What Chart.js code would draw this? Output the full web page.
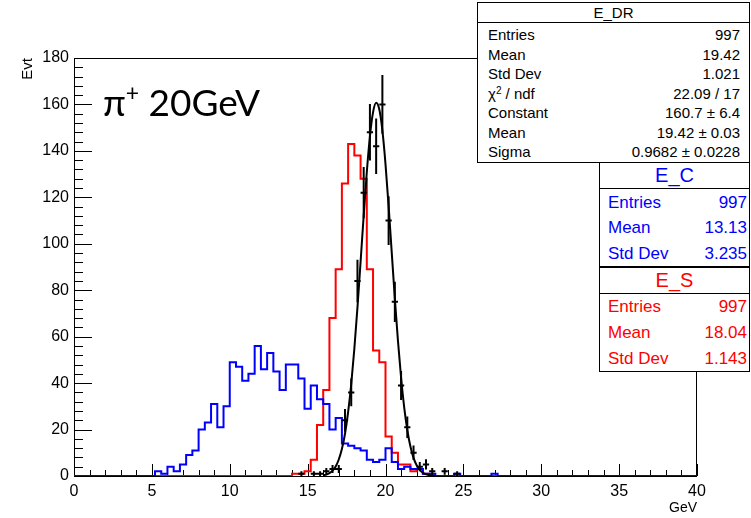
<!DOCTYPE html>
<html>
<head>
<meta charset="utf-8">
<script src="https://cdn.jsdelivr.net/npm/chart.js@4.4.1/dist/chart.umd.min.js"></script>
<style>
html,body{margin:0;padding:0;background:#ffffff;}
#wrap{position:relative;width:751px;height:518px;overflow:hidden;font-family:"Liberation Sans",Arial,Helvetica,sans-serif;}
#c{position:absolute;left:0;top:0;}
.box{position:absolute;background:#fff;border:1px solid #000;box-sizing:border-box;}
.ttl{position:absolute;left:0;right:0;top:0;text-align:center;border-bottom:1px solid #000;box-sizing:border-box;}
.row{position:absolute;white-space:nowrap;}
#lbl{position:absolute;left:103px;top:80px;font-family:Lato,"Open Sans",sans-serif;font-size:37px;line-height:44px;color:#000;white-space:nowrap;}
#lbl span{font-size:23px;position:relative;top:-15px;}
</style>
</head>
<body>
<div id="wrap">
<canvas id="c" width="751" height="518"></canvas>
<div id="lbl">π<span>+</span> 20GeV</div>
</div>
<script>
// ---- histogram binning (100 bins from 0 to 40 GeV) ----
const binLow = 0;
const binWidth = 0.4;
const nBins = 100;

// ---- E_C (blue) bin contents, starting at bin index eC_firstBin ----
const eC_firstBin = 13;
const eC_counts = [2,1,4,2,5,9,11,20,23,31,21,30,49,47,41,44,56,46,53,45,37,48,48,42,29,39,33,31,20,25,14,13,12,11,7,6,7,12,6,3,4,3,3,1,1,0,0,0,1,0,0,0,0,0,1];

// ---- E_S (red) bin contents ----
const eS_firstBin = 35;
const eS_counts = [1,1,2,7,22,37,68,89,126,143,138,128,89,54,49,17,10,5,5,2,3,1];

// ---- E_DR (black points with errors) bin contents ----
const eDR_firstBin = 36;
const eDR_counts = [1,0,1,1,2,3,3,24,36,84,122,148,142,160,110,75,39,21,10,4,5,2,0,2,0,1];

// ---- Gaussian fit curve ----
const fitX = [16.0,16.2,16.4,16.6,16.8,17.0,17.2,17.4,17.6,17.8,18.0,18.2,18.4,18.6,18.8,19.0,19.2,19.4,19.6,19.8,20.0,20.2,20.4,20.6,20.8,21.0,21.2,21.4,21.6,21.8,22.0,22.2,22.4,22.6,22.8,23.0,23.2];
const fitY = [0.3,0.6,1.2,2.3,4.1,7.1,11.6,18.2,27.5,39.6,54.8,72.6,92.2,112.2,130.9,146.3,156.6,160.7,157.9,148.8,134.3,116.2,96.3,76.4,58.2,42.4,29.6,19.8,12.7,7.8,4.6,2.6,1.4,0.7,0.4,0.2,0.1];

// ---- axes ----
const xTickLabels = [0,5,10,15,20,25,30,35,40];
const yTickLabels = [0,20,40,60,80,100,120,140,160,180];
const xTitle = 'GeV';
const yTitle = 'Evt';

// ---- stat box texts ----
const statDR = [['Entries','997'],['Mean','19.42'],['Std Dev','1.021'],['χ<sup style="font-size:10px;vertical-align:5px;line-height:0">2</sup> / ndf','22.09 / 17'],['Constant','160.7 ± 6.4'],['Mean','19.42 ± 0.03'],['Sigma','0.9682 ± 0.0228']];
const statC = [['Entries','997'],['Mean','13.13'],['Std Dev','3.235']];
const statS = [['Entries','997'],['Mean','18.04'],['Std Dev','1.143']];

function histPoints(first, counts){
  const pts = [];
  for (let k = 0; k < nBins; k++){
    const i = k - first;
    const c = (i >= 0 && i < counts.length) ? counts[i] : 0;
    pts.push({x: binLow + k*binWidth, y: c});
  }
  pts.push({x: binLow + nBins*binWidth, y: pts[pts.length-1].y});
  return pts;
}
function pointPoints(first, counts){
  const pts = [];
  counts.forEach((n,i)=>{ if(n>0) pts.push({x: binLow + (first+i)*binWidth + binWidth/2, y: n}); });
  return pts;
}

const framePlugin = {
  id: 'rootFrame',
  beforeDatasetsDraw(chart){
    const {ctx, chartArea:a, scales:{x, y}} = chart;
    ctx.save();
    ctx.strokeStyle = '#000';
    ctx.lineWidth = 1;
    ctx.strokeRect(a.left + 0.5, a.top + 0.5, a.right - a.left - 1, a.bottom - a.top);
    ctx.beginPath();
    const yMaj = yTickLabels[1] - yTickLabels[0];
    for (let v = yTickLabels[0]; v <= yTickLabels[yTickLabels.length-1] + 1e-9; v += yMaj/5){
      const p = Math.round(y.getPixelForValue(v)) + 0.5;
      const major = Math.abs(v/yMaj - Math.round(v/yMaj)) < 1e-6;
      const len = major ? 18 : 9;
      ctx.moveTo(a.left, p); ctx.lineTo(a.left + len, p);
    }
    const xMaj = xTickLabels[1] - xTickLabels[0];
    for (let v = xTickLabels[0]; v <= xTickLabels[xTickLabels.length-1] + 1e-9; v += xMaj/5){
      const p = Math.round(x.getPixelForValue(v)) + 0.5;
      const major = Math.abs(v/xMaj - Math.round(v/xMaj)) < 1e-6;
      const len = major ? 12 : 6;
      ctx.moveTo(p, a.bottom); ctx.lineTo(p, a.bottom - len);
    }
    ctx.stroke();
    ctx.restore();
  },
  afterDatasetsDraw(chart){
    const {ctx, scales:{x, y}} = chart;
    const ds = chart.data.datasets.find(d => d.label === 'E_DR');
    ctx.save();
    ctx.strokeStyle = '#000';
    ctx.lineWidth = 2;
    ctx.beginPath();
    ds.data.forEach(pt => {
      const n = pt.y;
      const xc = x.getPixelForValue(pt.x);
      const x0 = x.getPixelForValue(pt.x - binWidth/2);
      const x1 = x.getPixelForValue(pt.x + binWidth/2);
      const yc = y.getPixelForValue(n);
      const e = Math.sqrt(n);
      const yt = y.getPixelForValue(n + e);
      const yb = y.getPixelForValue(Math.max(0, n - e));
      ctx.moveTo(x0, yc); ctx.lineTo(x1, yc);
      ctx.moveTo(xc, yt); ctx.lineTo(xc, yb);
    });
    ctx.stroke();
    ctx.restore();
  }
};

Chart.defaults.font.family = '"Liberation Sans", Arial, Helvetica, sans-serif';
Chart.defaults.color = '#000';

new Chart(document.getElementById('c'), {
  type: 'line',
  data: {
    datasets: [
      {label:'fit', data: fitX.map((v,i)=>({x:v, y:fitY[i]})), borderColor:'#000', borderWidth:2, pointRadius:0, fill:false, cubicInterpolationMode:'monotone', order:0},
      {label:'E_DR', type:'scatter', data: pointPoints(eDR_firstBin, eDR_counts), pointRadius:0, showLine:false, order:0},
      {label:'E_C', data: histPoints(eC_firstBin, eC_counts), borderColor:'#0000ff', borderWidth:2, stepped:true, pointRadius:0, fill:false, order:1},
      {label:'E_S', data: histPoints(eS_firstBin, eS_counts), borderColor:'#ff0000', borderWidth:2, stepped:true, pointRadius:0, fill:false, order:2}
    ]
  },
  options: {
    responsive:false, animation:false, devicePixelRatio:1, events:[],
    layout:{padding:{left:0, top:58, right:54, bottom:0}},
    plugins:{legend:{display:false}, tooltip:{enabled:false}},
    scales:{
      x:{type:'linear', min:xTickLabels[0], max:xTickLabels[xTickLabels.length-1],
         ticks:{stepSize:xTickLabels[1]-xTickLabels[0], padding:6, font:{size:16}, color:'#000', maxRotation:0},
         grid:{display:false, drawTicks:false}, border:{display:false},
         title:{display:true, text:xTitle, align:'end', font:{size:14}, color:'#000', padding:{top:0,bottom:1}},
         afterFit(s){ s.height = 42; }},
      y:{type:'linear', min:yTickLabels[0], max:yTickLabels[yTickLabels.length-1],
         ticks:{stepSize:yTickLabels[1]-yTickLabels[0], padding:5, font:{size:16}, color:'#000'},
         grid:{display:false, drawTicks:false}, border:{display:false},
         title:{display:true, text:yTitle, align:'end', font:{size:15}, color:'#000', padding:{top:19,bottom:0}},
         afterFit(s){ s.width = 74; }}
    }
  },
  plugins:[framePlugin]
});

// ---- stat boxes (HTML overlays) ----
const boxLayouts = [
  {title:'E_DR', rows:statDR, color:'#000', left:477, top:2, width:273, height:161, titleH:20, titleFont:15, rowFont:15, rowY0:35, rowDy:19.5, padL:11, padR:10},
  {title:'E_C', rows:statC, color:'#0000ff', left:599, top:162, width:151, height:105, titleH:26, titleFont:20, rowFont:17, rowY0:202.7, rowDy:25.7, padL:9, padR:3},
  {title:'E_S', rows:statS, color:'#ff0000', left:599, top:267, width:151, height:105, titleH:26, titleFont:20, rowFont:17, rowY0:306.7, rowDy:26.3, padL:9, padR:3}
];
const wrap = document.getElementById('wrap');
boxLayouts.forEach(b => {
  const box = document.createElement('div');
  box.className = 'box';
  Object.assign(box.style, {left:b.left+'px', top:b.top+'px', width:b.width+'px', height:b.height+'px', color:b.color});
  const t = document.createElement('div');
  t.className = 'ttl';
  Object.assign(t.style, {height:b.titleH+'px', lineHeight:(b.titleH-1)+'px', fontSize:b.titleFont+'px'});
  t.textContent = b.title;
  box.appendChild(t);
  wrap.appendChild(box);
  b.rows.forEach((r,i) => {
    const cy = b.rowY0 + i*b.rowDy;
    const lh = 20;
    const l = document.createElement('div');
    l.className = 'row';
    Object.assign(l.style, {left:(b.left+b.padL)+'px', top:(cy-lh/2)+'px', lineHeight:lh+'px', fontSize:b.rowFont+'px', color:b.color});
    l.innerHTML = r[0];
    const v = document.createElement('div');
    v.className = 'row';
    Object.assign(v.style, {left:b.left+'px', width:(b.width-b.padR)+'px', textAlign:'right', top:(cy-lh/2)+'px', lineHeight:lh+'px', fontSize:b.rowFont+'px', color:b.color});
    v.textContent = r[1];
    wrap.appendChild(l);
    wrap.appendChild(v);
  });
});
</script>
</body>
</html>
